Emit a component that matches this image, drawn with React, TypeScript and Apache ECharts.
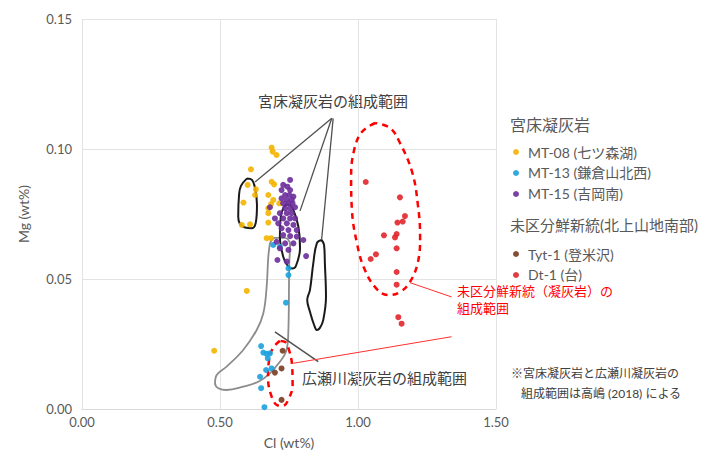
import React, { useEffect, useRef } from "react";
import * as echarts from "echarts";

const FONT = "Lato, 'Noto Sans CJK JP', sans-serif";

const xTicks = [0, 0.5, 1.0, 1.5];
const yTicks = [0, 0.05, 0.1, 0.15];

const seriesNames = ["MT-08 (七ツ森湖)", "MT-13 (鎌倉山北西)", "MT-15 (吉岡南)", "Tyt-1 (登米沢)", "Dt-1 (台)"];
const seriesColors = ["#F4B400", "#1BA1DE", "#6B2D9B", "#7A3B1F", "#E0262B"];

const mt08: number[][] = [
  [0.687, 0.1005], [0.691, 0.099], [0.705, 0.0977], [0.612, 0.0922], [0.6, 0.0862],
  [0.63, 0.0845], [0.687, 0.0874], [0.696, 0.0864], [0.627, 0.0823], [0.675, 0.0823],
  [0.693, 0.0804], [0.585, 0.0794], [0.685, 0.0788], [0.675, 0.0772], [0.715, 0.0791],
  [0.675, 0.0753], [0.675, 0.0717], [0.609, 0.071], [0.579, 0.0708], [0.669, 0.0657],
  [0.685, 0.0657], [0.597, 0.0454], [0.479, 0.0224],
];
const mt13: number[][] = [
  [0.693, 0.0631], [0.717, 0.0624], [0.748, 0.0541], [0.748, 0.0515], [0.739, 0.0409],
  [0.649, 0.0242], [0.657, 0.0217], [0.669, 0.0212], [0.681, 0.0214], [0.673, 0.0195],
  [0.667, 0.015], [0.687, 0.0156], [0.645, 0.0124], [0.649, 0.008], [0.661, 0.0007],
];
const mt15: number[][] = [
  [0.754, 0.0881], [0.729, 0.0862], [0.744, 0.0855], [0.723, 0.0842], [0.754, 0.0842],
  [0.736, 0.0823], [0.751, 0.0823], [0.766, 0.0817], [0.723, 0.081], [0.742, 0.0804],
  [0.76, 0.0804], [0.729, 0.0791], [0.748, 0.0791], [0.763, 0.0791], [0.681, 0.0776],
  [0.736, 0.0772], [0.754, 0.0772], [0.772, 0.0776], [0.717, 0.0753], [0.742, 0.0753],
  [0.76, 0.0753], [0.699, 0.0733], [0.729, 0.0733], [0.754, 0.0733], [0.772, 0.0733],
  [0.711, 0.0714], [0.742, 0.0714], [0.766, 0.0708], [0.723, 0.0695], [0.748, 0.0688],
  [0.778, 0.0688], [0.729, 0.0669], [0.754, 0.0665], [0.778, 0.0663], [0.802, 0.065],
  [0.705, 0.0643], [0.736, 0.0637], [0.766, 0.0637], [0.717, 0.0618], [0.748, 0.0612],
  [0.708, 0.0573], [0.742, 0.0567], [0.812, 0.0588],
];
const tyt1: number[][] = [
  [0.727, 0.0224], [0.723, 0.0156], [0.699, 0.014], [0.723, 0.0035],
];
const dt1: number[][] = [
  [1.028, 0.0873], [1.152, 0.0814], [1.17, 0.0742], [1.162, 0.0721], [1.143, 0.0717],
  [1.14, 0.0673], [1.134, 0.066], [1.094, 0.0668], [1.14, 0.0618], [1.065, 0.0595],
  [1.046, 0.0577], [1.14, 0.0527], [1.14, 0.0478], [1.146, 0.0353], [1.158, 0.0328],
];

// 広瀬川凝灰岩の組成範囲 (gray outline)
const hirosegawaRange: number[][] = [
  [0.681, 0.0638], [0.699, 0.0658], [0.736, 0.0658], [0.754, 0.0631], [0.751, 0.056],
  [0.747, 0.0278], [0.739, 0.022], [0.717, 0.0182], [0.681, 0.0137], [0.639, 0.0105],
  [0.584, 0.0086], [0.524, 0.0073], [0.494, 0.008], [0.482, 0.0099], [0.488, 0.0131],
  [0.524, 0.0163], [0.584, 0.0227], [0.633, 0.0304], [0.657, 0.0368], [0.669, 0.047],
  [0.675, 0.0586], [0.681, 0.0638],
];
// 宮床凝灰岩の組成範囲 (black outlines)
const miyatokoRangeA: number[][] = [
  [0.598, 0.0887], [0.576, 0.0858], [0.569, 0.0823], [0.566, 0.074], [0.572, 0.0712],
  [0.591, 0.0698], [0.615, 0.0695], [0.63, 0.0719], [0.634, 0.0785], [0.627, 0.085],
  [0.616, 0.0881], [0.598, 0.0887],
];
const miyatokoRangeB: number[][] = [
  [0.736, 0.0785], [0.721, 0.0746], [0.717, 0.0663], [0.729, 0.0586], [0.746, 0.055],
  [0.761, 0.054], [0.775, 0.055], [0.79, 0.0619], [0.784, 0.0701], [0.766, 0.0765],
  [0.748, 0.0787], [0.736, 0.0785],
];
const miyatokoRangeC: number[][] = [
  [0.868, 0.065], [0.851, 0.0638], [0.838, 0.056], [0.826, 0.0458], [0.816, 0.0419],
  [0.826, 0.0374], [0.841, 0.0323], [0.851, 0.0304], [0.862, 0.0312], [0.874, 0.0342],
  [0.884, 0.0432], [0.88, 0.056], [0.877, 0.0631], [0.868, 0.065],
];
// 未区分鮮新統 ranges (red dashed)
const miku1Range: number[][] = [
  [1.062, 0.11], [1.014, 0.1065], [0.986, 0.0996], [0.975, 0.0892], [0.978, 0.0765],
  [0.996, 0.0638], [1.022, 0.0542], [1.065, 0.0465], [1.109, 0.0438], [1.152, 0.045],
  [1.188, 0.0488], [1.217, 0.0565], [1.225, 0.0662], [1.217, 0.0785], [1.196, 0.0912],
  [1.152, 0.1023], [1.116, 0.1081], [1.062, 0.11],
];
const miku2Range: number[][] = [
  [0.717, 0.0262], [0.692, 0.0235], [0.678, 0.0188], [0.674, 0.0123], [0.685, 0.0054],
  [0.707, 0.0015], [0.728, 0.0012], [0.75, 0.0042], [0.763, 0.0092], [0.761, 0.0169],
  [0.75, 0.0227], [0.736, 0.0258], [0.717, 0.0262],
];
// leader lines
const miyatokoLeaders: number[][][] = [
  [[0.905, 0.1118], [0.627, 0.0873]],
  [[0.905, 0.1118], [0.79, 0.0762]],
  [[0.91, 0.1118], [0.868, 0.065]],
];
const hirosegawaLeader: number[][] = [[0.699, 0.0297], [0.856, 0.0182]];
const redLeaders: number[][][] = [
  [[0.766, 0.0176], [1.339, 0.0278]],
  [[1.188, 0.0486], [1.339, 0.0431]],
];

const outline = (data: number[][], color: string, width: number, dashed = false, smooth: number | boolean = 0.4) => ({
  type: "line",
  data,
  smooth,
  symbol: "none",
  silent: true,
  z: 1,
  lineStyle: { color, width, type: dashed ? [6, 5] : "solid" },
  legendHoverLink: false,
});

export default function App() {
  const ref = useRef<HTMLDivElement>(null);
  useEffect(() => {
    if (!ref.current) return;
    const chart = echarts.init(ref.current, undefined, { renderer: "svg" });
    const scatterSets = [mt08, mt13, mt15, tyt1, dt1];
    const series: any[] = [
      outline(hirosegawaRange, "#8c8c8c", 1.8),
      outline(miyatokoRangeA, "#1a1a1a", 2),
      outline(miyatokoRangeB, "#1a1a1a", 2),
      outline(miyatokoRangeC, "#1a1a1a", 2),
      outline(miku1Range, "#FF0000", 2.5, true),
      outline(miku2Range, "#FF0000", 2.5, true),
      ...miyatokoLeaders.map((d) => outline(d, "#505050", 1.3, false, false)),
      outline(hirosegawaLeader, "#505050", 1.5, false, false),
      ...redLeaders.map((d) => outline(d, "#FF3030", 1, false, false)),
      ...scatterSets.map((d, i) => ({
        type: "scatter",
        name: seriesNames[i],
        data: d,
        symbol: "circle",
        symbolSize: 6,
        z: 3,
        itemStyle: { color: seriesColors[i], opacity: 0.9 },
      })),
    ];
    chart.setOption({
      animation: false,
      textStyle: { fontFamily: FONT },
      grid: { left: 82, right: 228, top: 19, bottom: 48 },
      xAxis: {
        type: "value",
        min: xTicks[0],
        max: xTicks[xTicks.length - 1],
        interval: 0.5,
        name: "Cl (wt%)",
        nameLocation: "middle",
        nameGap: 26,
        nameTextStyle: { fontSize: 14, color: "#595959", fontFamily: FONT },
        axisLine: { show: true, lineStyle: { color: "#d9d9d9" } },
        axisTick: { show: false },
        axisLabel: { fontSize: 13, color: "#595959", margin: 6, formatter: (v: number) => v.toFixed(2), fontFamily: FONT },
        splitLine: { show: true, lineStyle: { color: "#e3e3e3" } },
      },
      yAxis: {
        type: "value",
        min: yTicks[0],
        max: yTicks[yTicks.length - 1],
        interval: 0.05,
        name: "Mg (wt%)",
        nameLocation: "middle",
        nameGap: 52,
        nameTextStyle: { fontSize: 14, color: "#595959", fontFamily: FONT },
        axisLine: { show: false },
        axisTick: { show: false },
        axisLabel: { fontSize: 13, color: "#595959", margin: 10, formatter: (v: number) => v.toFixed(2), fontFamily: FONT },
        splitLine: { show: true, lineStyle: { color: "#e3e3e3" } },
      },
      legend: [
        {
          data: seriesNames.slice(0, 3),
          orient: "vertical",
          left: 508,
          top: 140,
          icon: "circle",
          itemWidth: 14,
          itemHeight: 6,
          itemGap: 7,
          textStyle: { fontSize: 14, color: "#595959", fontFamily: FONT },
        },
        {
          data: seriesNames.slice(3),
          orient: "vertical",
          left: 508,
          top: 242,
          icon: "circle",
          itemWidth: 14,
          itemHeight: 6,
          itemGap: 7,
          textStyle: { fontSize: 14, color: "#595959", fontFamily: FONT },
        },
      ],
      graphic: [
        { type: "text", left: 510, top: 116, style: { text: "宮床凝灰岩", fontSize: 16, fill: "#595959", fontFamily: FONT } },
        { type: "text", left: 510, top: 217, style: { text: "未区分鮮新統(北上山地南部)", fontSize: 15, fill: "#595959", fontFamily: FONT } },
        { type: "text", left: 258, top: 93, style: { text: "宮床凝灰岩の組成範囲", fontSize: 15, fill: "#404040", fontFamily: FONT } },
        { type: "text", left: 302, top: 370, style: { text: "広瀬川凝灰岩の組成範囲", fontSize: 15, fill: "#404040", fontFamily: FONT } },
        { type: "text", left: 457, top: 282, style: { text: "未区分鮮新統（凝灰岩）の\n組成範囲", fontSize: 13, lineHeight: 17, fill: "#FF0000", fontFamily: FONT } },
        { type: "text", left: 511, top: 367, style: { text: "※宮床凝灰岩と広瀬川凝灰岩の", fontSize: 12, fill: "#404040", fontFamily: FONT } },
        { type: "text", left: 521, top: 387, style: { text: "組成範囲は高嶋 (2018) による", fontSize: 12, fill: "#404040", fontFamily: FONT } },
      ],
      series,
    });
    return () => chart.dispose();
  }, []);
  return <div ref={ref} style={{ position: "absolute", left: 0, top: 0, width: 724, height: 457 }} />;
}
